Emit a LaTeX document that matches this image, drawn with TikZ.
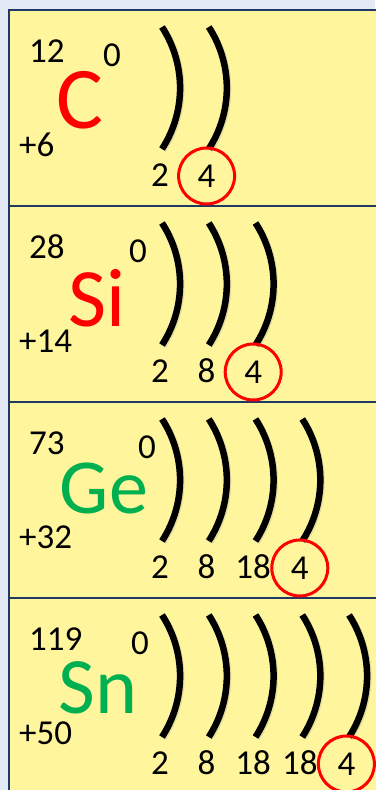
\documentclass[tikz,border=0pt]{standalone}
\usepackage{fontspec}
\setmainfont{Carlito}
\usepackage{xcolor}
\usepackage{tikz}
\definecolor{pagebg}{RGB}{228,234,245}
\definecolor{cellfill}{RGB}{255,245,157}
\definecolor{cellline}{RGB}{31,56,100}
\definecolor{elemred}{RGB}{255,0,0}
\definecolor{elemgreen}{RGB}{0,176,80}
\tikzset{
    cell/.style={draw=cellline, fill=cellfill, line width=2pt},
    shell/.style={line width=6.5pt},
    shellshadow/.style={line width=6.5pt, black!40, opacity=0.25},
    num/.style={font=\fontsize{35}{35}\selectfont, inner sep=0pt},
    valence/.style={num, circle, draw=elemred, line width=3pt, minimum size=56pt},
}

\begin{document}
\begin{tikzpicture}[x=1pt, y=1pt]
    \useasboundingbox (0,0) rectangle (375,790);
    \fill[pagebg] (0,0) rectangle (375,790);

    \foreach \i in {0,...,3} {
        \pgfmathsetmacro\celltop{780-196*\i}
        \draw[cell] (9,\celltop) rectangle (390,\celltop-196);
    }

    \foreach \i/\sym/\col/\symsize/\symx/\symy/\mass/\zerox/\zee/\nsh/\inner in {
        0/C/elemred/88/80/90/12/112/+6/2/{2},
        1/Si/elemred/83/97/92/28/138/+14/3/{2,8},
        2/Ge/elemgreen/78/104/86/73/147/+32/4/{2,8,18},
        3/Sn/elemgreen/80/98/90/119/140/+50/5/{2,8,18,18}} {
        \pgfmathsetmacro\celltop{780-196*\i}
        \node[num, anchor=west] (mass\i) at (29,\celltop-41) {\mass};
        \node[num] (zero\i) at (\zerox,\celltop-45) {0};
        \node[num, anchor=west] (zee\i) at (19,\celltop-135) {\zee};
        \node[inner sep=0pt, text=\col, font=\fontsize{\symsize}{\symsize}\selectfont] (sym\i) at (\symx,\celltop-\symy) {\sym};
        \foreach \k in {1,...,\nsh} {
            \pgfmathsetmacro\sx{162+46.75*(\k-1)}
            \draw[shellshadow] (\sx+1.2,\celltop-18.2) arc[start angle=33, end angle=-33, radius=112];
            \draw[shell] (\sx,\celltop-17) arc[start angle=33, end angle=-33, radius=112];
        }
        \foreach \n [count=\k from 0] in \inner {
            \node[num] (shellnum\i-\k) at ({160+46.6*\k},\celltop-165) {\n};
        }
        \node[valence] (valence\i) at ({160+46.6*(\nsh-1)},\celltop-166) {4};
    }
\end{tikzpicture}
\end{document}
